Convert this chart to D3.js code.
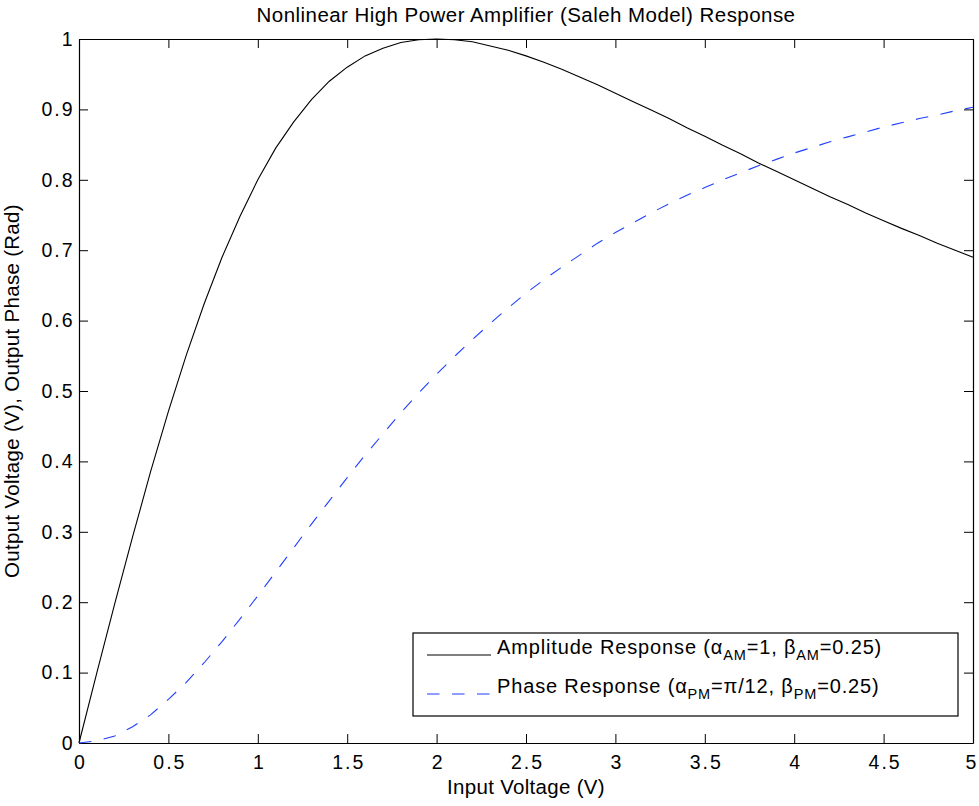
<!DOCTYPE html>
<html>
<head>
<meta charset="utf-8">
<script src="https://cdn.jsdelivr.net/npm/d3@7"></script>
<style>
  body { margin: 0; background: #fff; }
  svg { display: block; font-family: "Liberation Sans", Arial, Helvetica, sans-serif; }
</style>
</head>
<body>
<div id="chart"></div>
<script>
// Eingangsspannung (V)
const inputV = [0, 0.1, 0.2, 0.3, 0.4, 0.5, 0.6, 0.7, 0.8, 0.9,
  1.0, 1.1, 1.2, 1.3, 1.4, 1.5, 1.6, 1.7, 1.8, 1.9,
  2.0, 2.1, 2.2, 2.3, 2.4, 2.5, 2.6, 2.7, 2.8, 2.9,
  3.0, 3.1, 3.2, 3.3, 3.4, 3.5, 3.6, 3.7, 3.8, 3.9,
  4.0, 4.1, 4.2, 4.3, 4.4, 4.5, 4.6, 4.7, 4.8, 4.9, 5.0];

// Amplitude (V)
const amplitude = [0, 0.100, 0.198, 0.293, 0.385, 0.471, 0.551, 0.624, 0.690, 0.748,
  0.800, 0.845, 0.882, 0.914, 0.940, 0.960, 0.976, 0.987, 0.995, 0.999,
  1.000, 0.999, 0.996, 0.990, 0.984, 0.976, 0.967, 0.957, 0.946, 0.935,
  0.923, 0.911, 0.899, 0.887, 0.874, 0.862, 0.849, 0.837, 0.824, 0.812,
  0.800, 0.788, 0.776, 0.765, 0.753, 0.742, 0.731, 0.721, 0.710, 0.700, 0.690];

// Phase (Rad)
const phase = [0, 0.003, 0.010, 0.023, 0.040, 0.062, 0.086, 0.114, 0.144, 0.176,
  0.209, 0.243, 0.277, 0.311, 0.344, 0.377, 0.409, 0.439, 0.469, 0.497,
  0.524, 0.549, 0.573, 0.596, 0.618, 0.639, 0.658, 0.676, 0.693, 0.710,
  0.725, 0.739, 0.753, 0.766, 0.778, 0.789, 0.800, 0.810, 0.820, 0.829,
  0.838, 0.846, 0.854, 0.861, 0.868, 0.875, 0.881, 0.887, 0.892, 0.898, 0.903];

const xTicks = [0, 0.5, 1, 1.5, 2, 2.5, 3, 3.5, 4, 4.5, 5];
const yTicks = [0, 0.1, 0.2, 0.3, 0.4, 0.5, 0.6, 0.7, 0.8, 0.9, 1];

const W = 979, H = 806;
const plot = { left: 79, right: 973, top: 39, bottom: 743 };

const svg = d3.select('#chart').append('svg')
  .attr('width', W).attr('height', H);

svg.append('rect').attr('width', W).attr('height', H).attr('fill', '#fff');

const x = d3.scaleLinear().domain([0, 5]).range([plot.left, plot.right]);
const y = d3.scaleLinear().domain([0, 1]).range([plot.bottom, plot.top]);

const fmt = d3.format('');
const TICK = 9;

// Achsen (Ticks nach innen)
const gx = svg.append('g')
  .attr('transform', `translate(0,${plot.bottom})`)
  .call(d3.axisBottom(x).tickValues(xTicks).tickFormat(fmt)
    .tickSizeInner(-TICK).tickSizeOuter(0).tickPadding(12));
const gy = svg.append('g')
  .attr('transform', `translate(${plot.left},0)`)
  .call(d3.axisLeft(y).tickValues(yTicks).tickFormat(fmt)
    .tickSizeInner(-TICK).tickSizeOuter(0).tickPadding(4.5));
const gt = svg.append('g')
  .attr('transform', `translate(0,${plot.top})`)
  .call(d3.axisTop(x).tickValues(xTicks).tickFormat('')
    .tickSizeInner(-TICK).tickSizeOuter(0));
const gr = svg.append('g')
  .attr('transform', `translate(${plot.right},0)`)
  .call(d3.axisRight(y).tickValues(yTicks).tickFormat('')
    .tickSizeInner(-TICK).tickSizeOuter(0));

[gx, gy, gt, gr].forEach(g => {
  g.selectAll('path.domain').attr('stroke', '#000').attr('stroke-width', 1.2);
  g.selectAll('line').attr('stroke', '#000').attr('stroke-width', 1);
  g.selectAll('text').attr('fill', '#000')
    .style('font-size', '19.5px').style('letter-spacing', '2px')
    .style('font-family', '"Liberation Sans", Arial, Helvetica, sans-serif');
});
// letzte Beschriftung ("5") nicht über den Rand schieben
gx.selectAll('text').attr('dx', d => d === 5 ? -1.5 : 1);

// Kurven
const line = d3.line().x((d, i) => x(inputV[i])).y(d => y(d));

svg.append('path')
  .datum(amplitude)
  .attr('d', line)
  .attr('fill', 'none')
  .attr('stroke', '#000')
  .attr('stroke-width', 1.1);

svg.append('path')
  .datum(phase)
  .attr('d', line)
  .attr('fill', 'none')
  .attr('stroke', '#1f3fff')
  .attr('stroke-width', 1.1)
  .attr('stroke-dasharray', '12.5,12.5');

// Titel und Achsenbeschriftungen
svg.append('text')
  .attr('x', (plot.left + plot.right) / 2).attr('y', 22)
  .attr('text-anchor', 'middle')
  .style('font-size', '20.5px').style('letter-spacing', '0.45px')
  .text('Nonlinear High Power Amplifier (Saleh Model) Response');

svg.append('text')
  .attr('x', (plot.left + plot.right) / 2).attr('y', 794)
  .attr('text-anchor', 'middle')
  .style('font-size', '20.5px').style('letter-spacing', '0.3px')
  .text('Input Voltage (V)');

svg.append('text')
  .attr('transform', `translate(19,${(plot.top + plot.bottom) / 2}) rotate(-90)`)
  .attr('text-anchor', 'middle')
  .style('font-size', '20.5px').style('letter-spacing', '0.3px')
  .text('Output Voltage (V), Output Phase (Rad)');

// Legende
const legend = svg.append('g').attr('transform', 'translate(413,633)');
legend.append('rect')
  .attr('width', 545).attr('height', 83)
  .attr('fill', '#fff').attr('stroke', '#000').attr('stroke-width', 1.2);

const items = [
  { y: 22, stroke: '#000', dash: null,
    parts: [['Amplitude Response (α'], ['AM', 1], ['=1, β'], ['AM', 1], ['=0.25)']] },
  { y: 61, stroke: '#1f3fff', dash: '12.5,12.5',
    parts: [['Phase Response (α'], ['PM', 1], ['=π/12, β'], ['PM', 1], ['=0.25)']] }
];

items.forEach(it => {
  legend.append('line')
    .attr('x1', 14).attr('x2', 78)
    .attr('y1', it.y).attr('y2', it.y)
    .attr('stroke', it.stroke).attr('stroke-width', 1.1)
    .attr('stroke-dasharray', it.dash);
  const t = legend.append('text')
    .attr('x', 84).attr('y', it.y - 1.5)
    .style('font-size', '20px').style('letter-spacing', '0.85px');
  let down = false;
  it.parts.forEach(p => {
    const sub = p.length > 1;
    const ts = t.append('tspan').text(p[0]);
    if (sub && !down) { ts.attr('dy', 6).style('font-size', '14.5px'); down = true; }
    else if (!sub && down) { ts.attr('dy', -6); down = false; }
  });
});
</script>
</body>
</html>
